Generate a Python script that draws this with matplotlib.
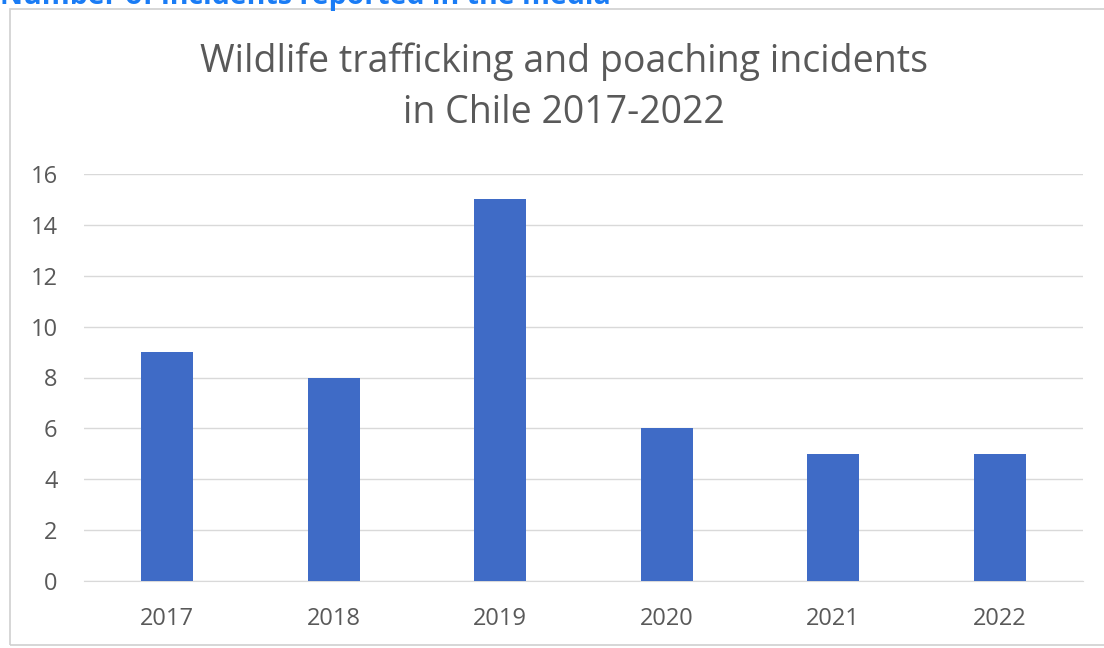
import matplotlib
matplotlib.use("Agg")
import matplotlib.pyplot as plt
from matplotlib.patches import Rectangle

years = ["2017", "2018", "2019", "2020", "2021", "2022"]
incidents = [9, 8, 15, 6, 5, 5]
yticks = [0, 2, 4, 6, 8, 10, 12, 14, 16]
title = "Wildlife trafficking and poaching incidents\nin Chile 2017-2022"
header = "Number of incidents reported in the media"

W, H = 1104, 648
fig = plt.figure(figsize=(W / 100, H / 100), dpi=100)
fig.patch.set_facecolor("white")

# outer chart frame
fig.patches.append(Rectangle((10 / W, 1 - 645 / H), (W + 20 - 10) / W, (645 - 9) / H,
                             transform=fig.transFigure, fill=False,
                             edgecolor="#d0d0d0", linewidth=1.2))

# cut-off header text at top (only its lower part is visible)
fig.text(0 / W, 1 - 4 / H, header, color="#1a7cf5", fontsize=20.5, fontweight="bold",
         family="Open Sans", ha="left", va="baseline")

ax = fig.add_axes([84 / W, 1 - 581 / H, (1083 - 84) / W, (581 - 174) / H])
x = list(range(len(years)))
ax.bar(x, incidents, width=0.31, color="#3f6bc6", zorder=3)
ax.set_xlim(-0.5, len(years) - 0.5)
ax.set_ylim(0, 16)
ax.set_yticks(yticks)
ax.set_yticklabels([str(v) for v in yticks])
ax.set_xticks(x)
ax.set_xticklabels(years)
ax.grid(axis="y", color="#d9d9d9", linewidth=1.0, zorder=0)
for s in ax.spines.values():
    s.set_visible(False)
ax.spines["bottom"].set_visible(True)
ax.spines["bottom"].set_color("#d9d9d9")
ax.tick_params(axis="both", length=0, labelsize=17, labelcolor="#595959")
ax.tick_params(axis="y", pad=19)
ax.tick_params(axis="x", pad=19)
for lab in ax.get_xticklabels() + ax.get_yticklabels():
    lab.set_family("Open Sans")

fig.text(564 / W, 1 - 87 / H, title, ha="center", va="center", fontsize=27,
         color="#595959", family="Open Sans", linespacing=1.45)

fig.savefig("out.png", dpi=100)
